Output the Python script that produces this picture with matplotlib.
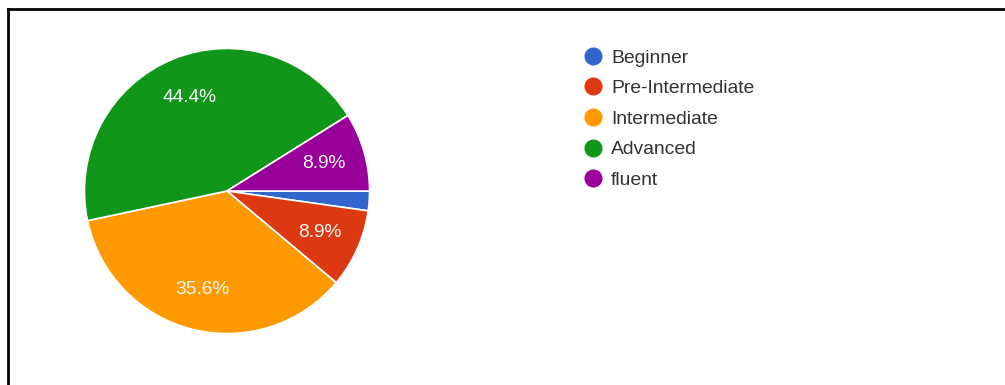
import matplotlib.pyplot as plt
from matplotlib.lines import Line2D

# Survey responses: English level of respondents (45 answers)
levels = ["Beginner", "Pre-Intermediate", "Intermediate", "Advanced", "fluent"]
counts = [1, 4, 16, 20, 4]
colors = ["#3366cc", "#dc3912", "#ff9900", "#109618", "#990099"]

plt.rcParams["font.family"] = ["Liberation Sans", "DejaVu Sans"]

W, H = 1005, 385
fig = plt.figure(figsize=(W / 100, H / 100), dpi=100)

# pie centred at (227, 191) px with a 144 px radius
cx, cy, r = 227, 191, 144
ax = fig.add_axes([(cx - r) / W, (H - cy - r) / H, 2 * r / W, 2 * r / H])


def pct_label(p):
    # thin slices get no label
    return f"{p:.1f}%" if p > 5 else ""


wedges, _, autotexts = ax.pie(
    counts,
    colors=colors,
    startangle=0,
    counterclock=False,
    autopct=pct_label,
    pctdistance=0.71,
    wedgeprops=dict(edgecolor="white", linewidth=1.2),
    textprops=dict(color="#f8f8f8", fontsize=13.8),
)
ax.set_xlim(-1.01, 1.01)
ax.set_ylim(-1.01, 1.01)

handles = [
    Line2D([], [], marker="o", linestyle="none", markersize=12,
           markerfacecolor=c, markeredgecolor=c)
    for c in colors
]
fig.legend(
    handles, levels,
    loc="upper left",
    bbox_to_anchor=(581.5 / W, 1 - 49 / H),
    frameon=False,
    fontsize=13.9,
    labelcolor="#333333",
    handletextpad=0.33,
    labelspacing=0.68,
    handlelength=1.2,
    borderaxespad=0,
    borderpad=0,
)

# partial black frame along the top and left edges
fig.add_artist(Line2D([8 / W, 8 / W], [0, 1 - 9 / H], color="black", lw=2,
                      transform=fig.transFigure))
fig.add_artist(Line2D([8 / W, 1], [1 - 9 / H, 1 - 9 / H], color="black", lw=2,
                      transform=fig.transFigure))

fig.savefig("out.png", dpi=100)
